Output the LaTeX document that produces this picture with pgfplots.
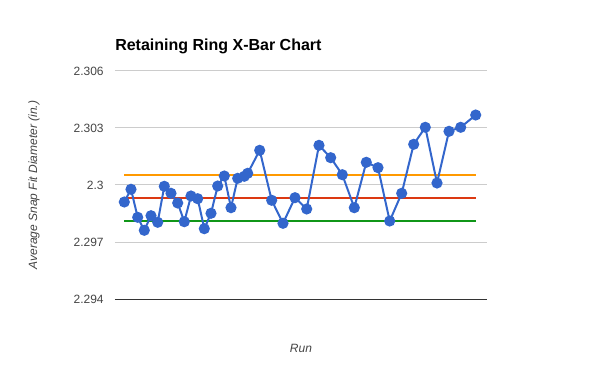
\documentclass[border=0pt]{standalone}
\usepackage{pgfplots}
\pgfplotsset{compat=1.18}
\usepackage{fontspec}
\setmainfont{Liberation Sans}
\definecolor{gblue}{HTML}{3366CC}
\definecolor{gorange}{HTML}{FF9900}
\definecolor{gred}{HTML}{DC3912}
\definecolor{ggreen}{HTML}{109618}
\definecolor{ggrid}{HTML}{CCCCCC}
\definecolor{gtext}{HTML}{444444}
\definecolor{gbase}{HTML}{333333}
\begin{document}
\begin{tikzpicture}
\useasboundingbox (-86.25pt,-54pt) rectangle (363.75pt,224.25pt);
\begin{axis}[
  at={(0,0)}, anchor=south west,
  scale only axis, width=279pt, height=171pt,
  xmin=0, xmax=372, ymin=2.294, ymax=2.306,
  xtick=\empty,
  ytick={2.294,2.297,2.3,2.303,2.306},
  yticklabels={2.294,2.297,2.3,2.303,2.306},
  yticklabel style={font=\fontsize{9}{10}\selectfont, text=gtext, xshift=-5pt},
  ymajorgrids, grid style={ggrid, line width=0.75pt},
  axis line style={draw=none}, tick style={draw=none},
  clip=false,
  title={Retaining Ring X-Bar Chart},
  title style={at={(axis description cs:0,1)}, anchor=base west, inner sep=0pt, yshift=9pt, font=\bfseries\fontsize{12}{14}\selectfont, text=black},
  xlabel={Run},
  xlabel style={at={(axis description cs:0.5,0)}, anchor=base, yshift=-40.3pt, font=\itshape\fontsize{9}{10}\selectfont, text=gtext},
  ylabel={Average Snap Fit Diameter (in.)},
  ylabel style={at={(axis description cs:-0.218,0.5)}, anchor=center, font=\itshape\fontsize{9}{10}\selectfont, text=gtext},
]
\draw[gbase, line width=0.75pt] (axis cs:0,2.294) -- (axis cs:372,2.294);
\addplot[gorange, line width=1.5pt, no marks] coordinates {(9.3,2.300526) (360.7,2.300526)};
\addplot[gred, line width=1.5pt, no marks] coordinates {(9.3,2.29933) (360.7,2.29933)};
\addplot[ggreen, line width=1.5pt, no marks] coordinates {(9.3,2.298121) (360.7,2.298121)};
\addplot[gblue, line width=1.5pt, mark=*, mark size=3.4pt, mark options={fill=gblue, draw=gblue}] coordinates {
(9.3,2.299105) (16,2.299774) (22.7,2.2983) (29.3,2.297616) (36,2.298384)
(42.7,2.298037) (49.3,2.299932) (56,2.299563) (62.7,2.299053) (69.3,2.298068)
(76,2.299421) (82.7,2.299279) (89.3,2.2977) (96,2.298511) (102.7,2.299947)
(109.3,2.300474) (116,2.298805) (122.7,2.300353) (129.3,2.300458) (132.7,2.300616)
(144.7,2.301826) (156.7,2.299195) (168,2.297984) (180,2.299332) (191.7,2.298737)
(204,2.302089) (215.7,2.301437) (227.3,2.300542) (239.3,2.298805) (251.3,2.301195)
(263,2.300911) (274.7,2.298105) (286.7,2.299563) (298.7,2.302142) (310.3,2.303037)
(322,2.300105) (334,2.302826) (345.7,2.303037) (360.7,2.303684)
};
\end{axis}
\end{tikzpicture}
\end{document}
